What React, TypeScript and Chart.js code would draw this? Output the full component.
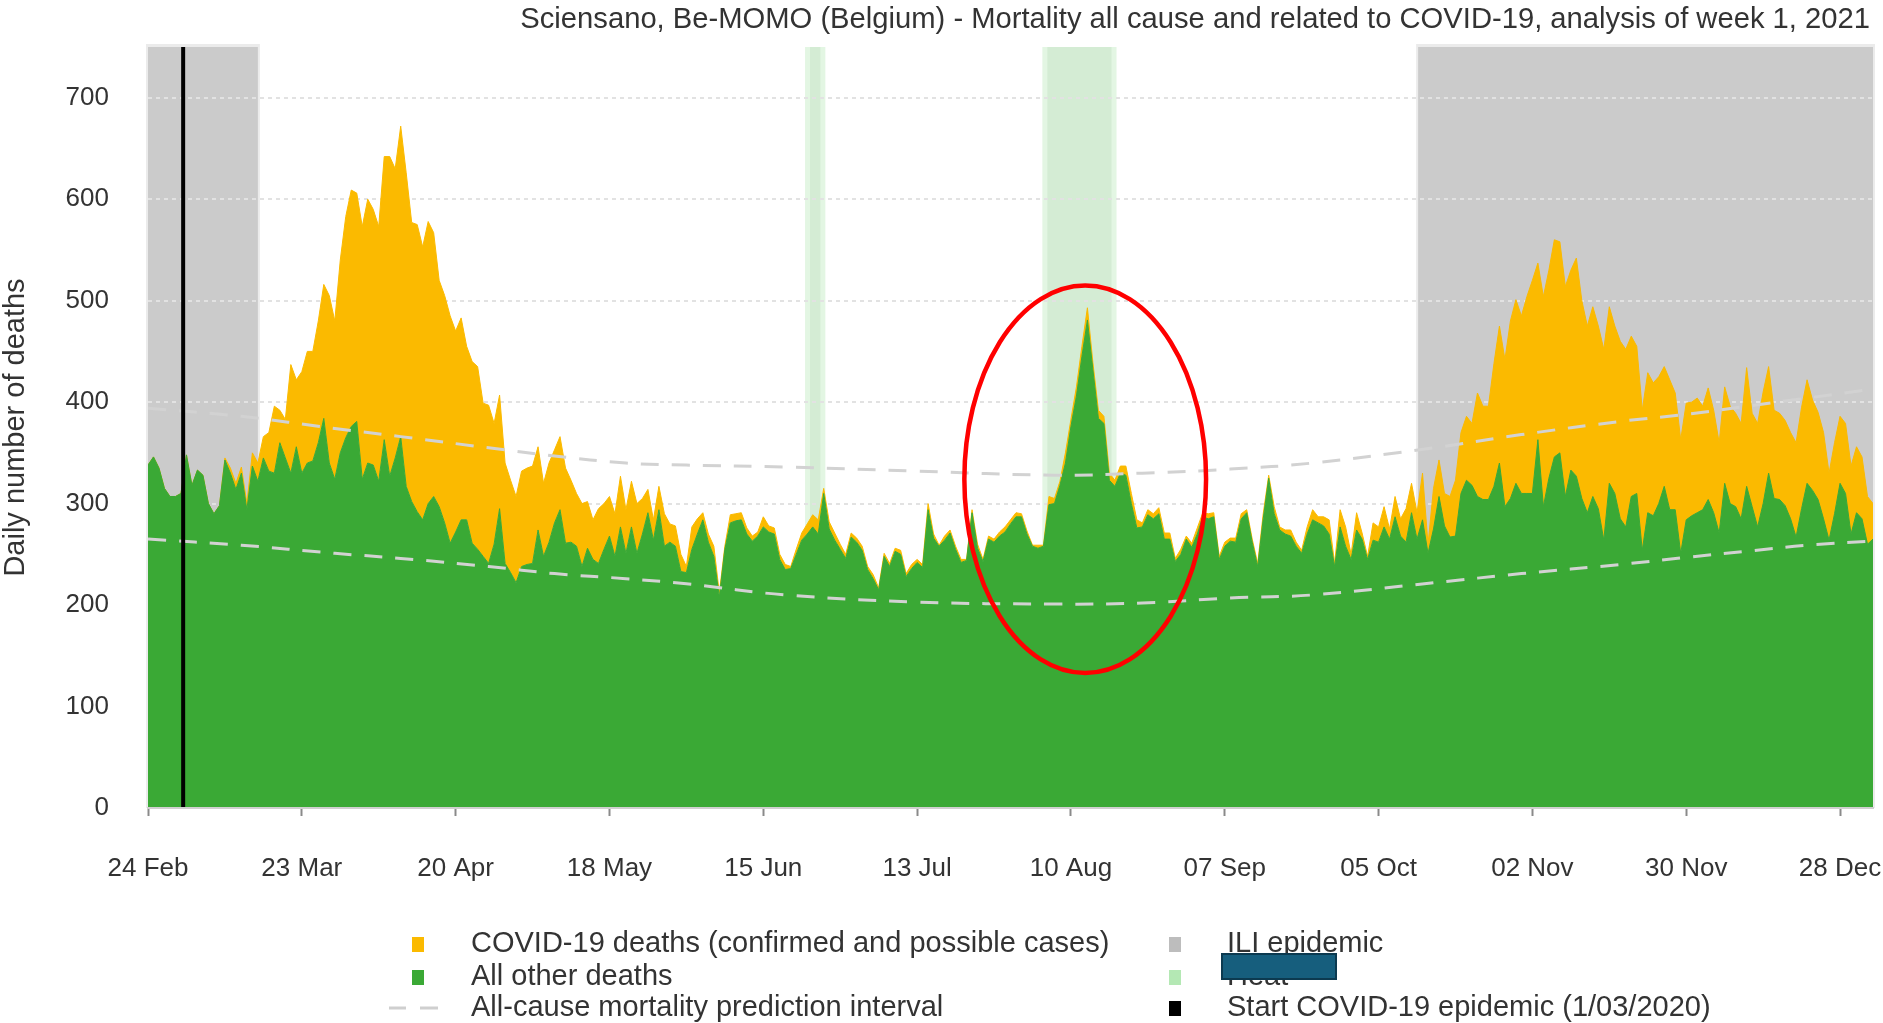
import React, { useEffect, useRef } from 'react';
import { Chart, registerables } from 'chart.js';

Chart.register(...registerables);

const W = 1883;
const H = 1023;
const FONT = '"Liberation Sans", Arial, Helvetica, sans-serif';

const TITLE = 'Sciensano, Be-MOMO (Belgium) - Mortality all cause and related to COVID-19, analysis of week 1, 2021';
const Y_LABEL = 'Daily number of deaths';

// day index 0 = 24 Feb 2020
const X_TICK_DAYS = [0, 28, 56, 84, 112, 140, 168, 196, 224, 252, 280, 308];
const X_TICK_LABELS = ['24 Feb', '23 Mar', '20 Apr', '18 May', '15 Jun', '13 Jul', '10 Aug', '07 Sep', '05 Oct', '02 Nov', '30 Nov', '28 Dec'];
const Y_TICKS = [0, 100, 200, 300, 400, 500, 600, 700];
const LAST_DAY = 314;

// "All other deaths" (green)
const OTHER_DEATHS = [
  338, 346, 335, 315, 307, 307, 310, 348, 318, 333,
  328, 300, 290, 298, 343, 330, 314, 330, 294, 337,
  322, 345, 332, 330, 360, 345, 330, 356, 330, 340,
  342, 360, 384, 340, 324, 350, 365, 376, 381, 324,
  340, 338, 322, 363, 327, 345, 366, 317, 302, 292,
  284, 300, 307, 297, 281, 261, 272, 284, 284, 261,
  255, 248, 241, 260, 295, 241, 232, 222, 238, 240,
  241, 274, 248, 262, 281, 294, 261, 262, 258, 238,
  256, 245, 241, 255, 268, 248, 277, 251, 277, 251,
  270, 291, 264, 294, 258, 262, 258, 233, 232, 255,
  270, 284, 262, 248, 208, 255, 281, 283, 284, 270,
  263, 268, 277, 272, 270, 245, 235, 236, 250, 264,
  270, 277, 270, 310, 275, 264, 255, 246, 267, 262,
  254, 235, 226, 215, 248, 238, 253, 250, 228, 236,
  242, 237, 294, 266, 258, 264, 271, 255, 242, 244,
  291, 256, 243, 265, 262, 268, 272, 280, 287, 287,
  270, 258, 256, 258, 299, 300, 318, 340, 376, 406,
  445, 481, 432, 384, 379, 323, 317, 330, 328, 300,
  276, 277, 289, 285, 290, 265, 265, 243, 250, 265,
  257, 270, 287, 285, 287, 245, 258, 263, 262, 285,
  291, 262, 238, 285, 325, 290, 274, 270, 268, 258,
  251, 270, 284, 281, 278, 270, 238, 277, 258, 245,
  274, 265, 245, 264, 262, 277, 265, 287, 268, 262,
  291, 265, 284, 251, 275, 307, 278, 267, 268, 310,
  323, 318, 307, 304, 304, 317, 340, 297, 305, 320,
  310, 310, 310, 363, 297, 325, 346, 350, 307, 333,
  327, 305, 291, 307, 295, 264, 320, 310, 285, 277,
  307, 310, 254, 291, 288, 300, 317, 294, 294, 251,
  284, 288, 291, 294, 304, 291, 271, 320, 300, 297,
  285, 317, 297, 277, 300, 330, 305, 304, 298, 285,
  267, 295, 320, 313, 304, 285, 264, 290, 320, 310,
  270, 291, 285, 260, 265,
];

// All deaths = other deaths + COVID-19 deaths (top of the yellow area)
const ALL_DEATHS = [
  338, 346, 335, 315, 307, 307, 310, 348, 318, 333,
  328, 300, 290, 298, 345, 335, 320, 336, 300, 350,
  340, 366, 370, 396, 392, 383, 437, 422, 430, 450,
  450, 480, 516, 505, 480, 540, 583, 609, 606, 573,
  600, 590, 573, 642, 642, 630, 672, 626, 577, 575,
  553, 578, 567, 520, 505, 485, 470, 483, 455, 440,
  435, 399, 397, 379, 407, 340, 323, 307, 332, 335,
  337, 356, 320, 340, 353, 366, 335, 323, 310, 300,
  302, 284, 295, 300, 307, 290, 327, 294, 322, 300,
  305, 314, 284, 317, 290, 280, 278, 250, 238, 277,
  285, 291, 270, 258, 212, 258, 289, 290, 291, 276,
  268, 272, 287, 278, 276, 250, 240, 238, 255, 271,
  280, 289, 284, 315, 282, 271, 260, 250, 271, 266,
  258, 238, 230, 217, 251, 241, 256, 254, 231, 240,
  245, 240, 300, 270, 259, 268, 274, 258, 245, 245,
  294, 260, 245, 268, 265, 272, 277, 284, 291, 290,
  273, 259, 259, 259, 307, 305, 322, 350, 383, 415,
  455, 493, 439, 392, 386, 330, 323, 337, 337, 310,
  284, 281, 294, 290, 296, 271, 271, 246, 255, 268,
  261, 276, 291, 290, 291, 248, 262, 266, 266, 290,
  294, 265, 241, 290, 328, 297, 277, 274, 274, 262,
  254, 277, 294, 287, 287, 284, 241, 294, 277, 250,
  291, 271, 248, 281, 277, 297, 275, 307, 285, 295,
  320, 291, 330, 260, 315, 343, 310, 307, 323, 370,
  386, 379, 409, 396, 396, 438, 475, 442, 480, 501,
  485, 504, 520, 537, 504, 530, 560, 558, 514, 530,
  542, 500, 475, 494, 475, 452, 494, 475, 460, 452,
  465, 455, 392, 429, 419, 425, 435, 422, 409, 363,
  399, 400, 404, 396, 414, 392, 360, 415, 396, 389,
  379, 434, 389, 379, 410, 435, 392, 389, 382, 370,
  360, 395, 422, 402, 390, 370, 330, 360, 386, 379,
  337, 356, 346, 307, 300,
];

// All-cause mortality prediction interval
const PRED_DAYS = [0, 17, 34, 46, 62, 74, 87, 98, 116, 140, 165, 181, 197, 212, 234, 250, 268, 280, 291, 302, 314];
const PRED_UPPER = [394, 386, 374, 366, 355, 347, 340, 338, 336, 332, 328, 330, 334, 340, 355, 368, 381, 388, 396, 404, 413];
const PRED_LOWER = [265, 259, 251, 246, 238, 231, 226, 221, 210, 203, 201, 202, 207, 210, 222, 231, 240, 247, 253, 259, 263];

// Shaded periods (day index ranges)
const ILI_PERIODS = [[0, 20], [231.2, 314]];
const HEAT_PERIODS = [[119.6, 123.3], [162.8, 176.3]];
const COVID_START_DAY = 6.4;

// Highlight ellipse (in data units)
const HIGHLIGHT = { day: 170.6, value: 324, halfDays: 22, halfValue: 191 };

const LEGEND_LEFT = [
  { label: 'COVID-19 deaths (confirmed and possible cases)', kind: 'box', color: '#fbba00' },
  { label: 'All other deaths', kind: 'box', color: '#3aa935' },
  { label: 'All-cause mortality prediction interval', kind: 'dash', color: '#cfcfcf' },
];
const LEGEND_RIGHT = [
  { label: 'ILI epidemic', kind: 'box', color: '#bdbdbd' },
  { label: 'Heat', kind: 'box', color: '#b4e8b4' },
  { label: 'Start COVID-19 epidemic (1/03/2020)', kind: 'box', color: '#000000' },
];

const GREEN = '#3aa935';
const YELLOW = '#fbba00';
const TEXT = '#333333';

const decorPlugin = {
  id: 'decor',
  beforeDraw(chart: any) {
    const { ctx, chartArea: a, scales } = chart;
    const x = scales.x;
    ctx.save();
    ILI_PERIODS.forEach(([s, e]) => {
      const x0 = x.getPixelForValue(s);
      const x1 = x.getPixelForValue(e);
      ctx.fillStyle = '#ebebeb';
      ctx.fillRect(x0 - 2, a.top - 3, x1 - x0 + 4, a.bottom - a.top + 3);
      ctx.fillStyle = '#cbcbcb';
      ctx.fillRect(x0, a.top, x1 - x0, a.bottom - a.top);
    });
    HEAT_PERIODS.forEach(([s, e]) => {
      const x0 = x.getPixelForValue(s);
      const x1 = x.getPixelForValue(e);
      ctx.fillStyle = '#e3f6e3';
      ctx.fillRect(x0, a.top, x1 - x0, a.bottom - a.top);
      ctx.fillStyle = '#d4ecd4';
      ctx.fillRect(x0 + 5, a.top, x1 - x0 - 10, a.bottom - a.top);
    });
    ctx.restore();
  },
  afterDatasetsDraw(chart: any) {
    const { ctx, chartArea: a, scales } = chart;
    const px = scales.x.getPixelForValue(COVID_START_DAY);
    ctx.save();
    ctx.strokeStyle = '#000';
    ctx.lineWidth = 4;
    ctx.beginPath();
    ctx.moveTo(px, a.top);
    ctx.lineTo(px, a.bottom);
    ctx.stroke();
    ctx.restore();
  },
  afterDraw(chart: any) {
    const { ctx, scales } = chart;
    ctx.save();
    // title
    ctx.fillStyle = TEXT;
    ctx.font = `29.2px ${FONT}`;
    ctx.textAlign = 'right';
    ctx.textBaseline = 'middle';
    ctx.fillText(TITLE, 1870, 20);

    // highlight ellipse
    const cx = scales.x.getPixelForValue(HIGHLIGHT.day);
    const cy = scales.y.getPixelForValue(HIGHLIGHT.value);
    const rx = scales.x.getPixelForValue(HIGHLIGHT.day + HIGHLIGHT.halfDays) - cx;
    const ry = cy - scales.y.getPixelForValue(HIGHLIGHT.value + HIGHLIGHT.halfValue);
    ctx.strokeStyle = '#ff0000';
    ctx.lineWidth = 4.5;
    ctx.beginPath();
    ctx.ellipse(cx, cy, rx, ry, 0, 0, Math.PI * 2);
    ctx.stroke();

    // legend
    const rows = [944, 977, 1008];
    const drawCol = (items: any[], markerX: number, textX: number) => {
      items.forEach((it, i) => {
        const y = rows[i];
        if (it.kind === 'box') {
          ctx.fillStyle = it.color;
          ctx.fillRect(markerX - 6, y - 7, 12, 15);
        } else {
          ctx.strokeStyle = it.color;
          ctx.lineWidth = 3;
          ctx.beginPath();
          ctx.moveTo(markerX - 29, y);
          ctx.lineTo(markerX - 12, y);
          ctx.moveTo(markerX + 2, y);
          ctx.lineTo(markerX + 20, y);
          ctx.stroke();
        }
        ctx.fillStyle = TEXT;
        ctx.font = `29px ${FONT}`;
        ctx.textAlign = 'left';
        ctx.textBaseline = 'middle';
        ctx.fillText(it.label, textX, y);
      });
    };
    drawCol(LEGEND_LEFT, 418, 471);
    drawCol(LEGEND_RIGHT, 1175, 1227);

    // redaction box over the second legend label
    ctx.fillStyle = '#165e7d';
    ctx.fillRect(1222, 954, 114, 25);
    ctx.strokeStyle = '#0c3a50';
    ctx.lineWidth = 2;
    ctx.strokeRect(1222, 954, 114, 25);
    ctx.restore();
  },
};

export default function App() {
  const ref = useRef<HTMLCanvasElement | null>(null);

  useEffect(() => {
    const canvas = ref.current;
    if (!canvas) return;
    const toPts = (xs: number[], ys: number[]) => ys.map((v, i) => ({ x: xs[i], y: v }));
    const dayIdx = OTHER_DEATHS.map((_, i) => i);

    const chart = new Chart(canvas, {
      type: 'line',
      data: {
        datasets: [
          {
            label: 'upper',
            data: toPts(PRED_DAYS, PRED_UPPER),
            borderColor: '#d2d2d2',
            borderWidth: 3,
            borderDash: [18, 13],
            fill: false,
            tension: 0.4,
            pointRadius: 0,
          },
          {
            label: 'lower',
            data: toPts(PRED_DAYS, PRED_LOWER),
            borderColor: '#d2d2d2',
            borderWidth: 3,
            borderDash: [18, 13],
            fill: false,
            tension: 0.4,
            pointRadius: 0,
          },
          {
            label: 'All other deaths',
            data: toPts(dayIdx, OTHER_DEATHS),
            borderColor: GREEN,
            borderWidth: 1,
            backgroundColor: GREEN,
            fill: 'origin',
            pointRadius: 0,
            tension: 0,
          },
          {
            label: 'COVID-19 deaths',
            data: toPts(dayIdx, ALL_DEATHS),
            borderColor: YELLOW,
            borderWidth: 1,
            backgroundColor: YELLOW,
            fill: '-1',
            pointRadius: 0,
            tension: 0,
          },
        ],
      },
      options: {
        animation: false,
        responsive: false,
        devicePixelRatio: 1,
        layout: { padding: { top: 47, right: 10, left: 0, bottom: 0 } },
        plugins: {
          legend: { display: false },
          title: { display: false },
          tooltip: { enabled: false },
        },
        scales: {
          x: {
            type: 'linear',
            min: 0,
            max: LAST_DAY,
            afterBuildTicks: (s: any) => {
              s.ticks = X_TICK_DAYS.map((v) => ({ value: v }));
            },
            afterFit: (s: any) => {
              s.height = 215;
              s.paddingLeft = 0;
              s.paddingRight = 0;
            },
            ticks: {
              autoSkip: false,
              maxRotation: 0,
              minRotation: 0,
              padding: 37,
              color: TEXT,
              font: { family: FONT, size: 26 },
              callback: (v: any) => {
                const i = X_TICK_DAYS.indexOf(Number(v));
                return i >= 0 ? X_TICK_LABELS[i] : '';
              },
            },
            grid: {
              drawOnChartArea: false,
              drawTicks: true,
              tickLength: 8,
              tickColor: '#8a8a8a',
              tickWidth: 2,
              color: '#8a8a8a',
            },
            border: { display: true, color: '#d0d0d0', width: 2, z: 1 },
          },
          y: {
            type: 'linear',
            min: 0,
            max: 750,
            afterBuildTicks: (s: any) => {
              s.ticks = Y_TICKS.map((v) => ({ value: v }));
            },
            afterFit: (s: any) => {
              s.width = 148;
              s.paddingTop = 0;
              s.paddingBottom = 0;
            },
            ticks: {
              padding: 39,
              color: TEXT,
              font: { family: FONT, size: 26 },
            },
            grid: { drawTicks: false, color: '#e2e2e2', lineWidth: 2 },
            border: { display: false, dash: [4, 4] },
            title: {
              display: true,
              text: Y_LABEL,
              color: TEXT,
              font: { family: FONT, size: 29, lineHeight: 1.1 },
              padding: 0,
            },
          },
        },
      } as any,
      plugins: [decorPlugin],
    });
    return () => chart.destroy();
  }, []);

  return (
    <div style={{ position: 'absolute', left: 0, top: 0, width: W, height: H, background: '#ffffff' }}>
      <canvas ref={ref} width={W} height={H} style={{ display: 'block', width: W, height: H }} />
    </div>
  );
}
